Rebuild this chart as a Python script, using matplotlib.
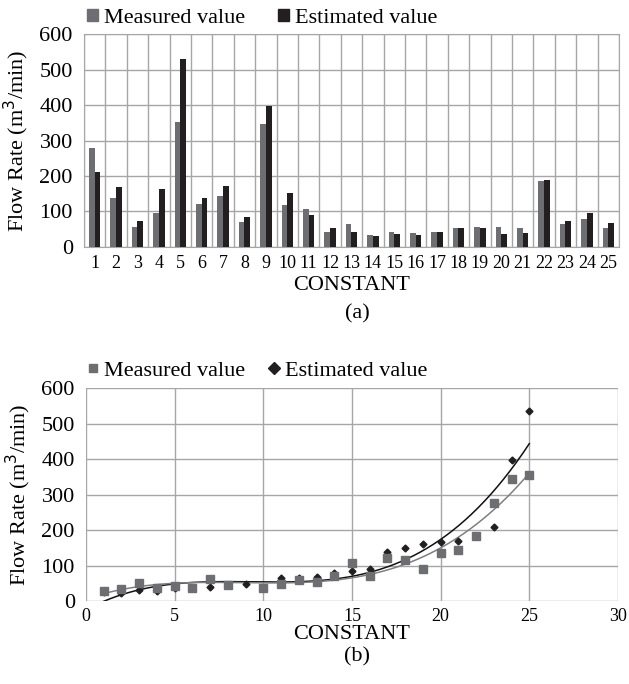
import numpy as np
import matplotlib
matplotlib.use('Agg')
import matplotlib.pyplot as plt
from matplotlib.lines import Line2D
from matplotlib.patches import Patch

plt.rcParams['font.family'] = ['Liberation Serif', 'DejaVu Serif']

# (a) bar chart values
constants = np.arange(1, 26)
bar_measured = [279, 139, 57, 97, 352, 122, 144, 71, 347, 119, 108, 43, 66,
                35, 43, 40, 43, 52, 57, 57, 54, 186, 66, 80, 54]
bar_estimated = [212, 170, 74, 164, 530, 139, 172, 85, 397, 153, 91, 54, 43,
                 32, 37, 35, 43, 52, 52, 37, 40, 189, 74, 97, 68]

# (b) scatter values (nan = point not visible in the figure)
sc_measured = [28, 35, 51, 36, 42, 37, 61, 44, np.nan, 37, 48, 59, 53, 70, 106,
               70, 121, 115, 89, 134, 145, 184, 276, 345, 354]
sc_estimated = [26, 23, 30, 27, 36, 37, 39, 44, 47, 37, 64, 66, 68, 80, 85,
                91, 137, 150, 160, 167, 170, 184, 209, 396, 536]

c_meas = '#6d6e71'
c_est = '#231f20'
c_grid = '#a6a6a6'
fs = 16

fig = plt.figure(figsize=(6.29, 6.84), dpi=100)

# ---- (a)
ax1 = fig.add_axes([0.1335, 0.639, 0.8505, 0.311])
w = 0.265
ax1.bar(constants - w/2, bar_measured, w, color=c_meas, zorder=3)
ax1.bar(constants + w/2, bar_estimated, w, color=c_est, zorder=3)
ax1.set_xlim(0.5, 25.5)
ax1.set_ylim(0, 600)
ax1.set_yticks(range(0, 601, 100))
ax1.set_xticks(constants)
ax1.set_xticks(np.arange(0.5, 26, 1), minor=True)
ax1.grid(True, which='minor', axis='x', color=c_grid, lw=1, zorder=0)
ax1.grid(True, which='major', axis='y', color=c_grid, lw=1, zorder=0)
ax1.tick_params(which='both', length=0)
ax1.tick_params(axis='y', labelsize=fs, pad=8)
ax1.tick_params(axis='x', labelsize=13, pad=6)
for s in ax1.spines.values():
    s.set_color(c_grid)
ax1.set_xlabel('CONSTANT', fontsize=fs, labelpad=3)
ax1.set_ylabel('Flow Rate (m$^3$/min)', fontsize=fs, labelpad=6)
ax1.legend(handles=[Patch(color=c_meas, label='Measured value'),
                    Patch(color=c_est, label='Estimated value')],
           loc='lower left', bbox_to_anchor=(0.006, 1.03), ncol=2, frameon=False,
           fontsize=fs, handlelength=0.5, handleheight=0.5, handletextpad=0.25,
           columnspacing=1.5, borderpad=0, borderaxespad=0)
fig.text(0.568, 0.541, '(a)', ha='center', va='center', fontsize=fs)

# ---- (b)
ax2 = fig.add_axes([0.1367, 0.1213, 0.8458, 0.3114])
x = np.arange(1, 26)
m = np.array(sc_measured, dtype=float)
e = np.array(sc_estimated, dtype=float)
ok = ~np.isnan(m)
xs = np.linspace(1, 25, 200)
pm = np.polyfit(x[ok], m[ok], 3)
pe = np.polyfit(x, e, 3)
ax2.plot(xs, np.polyval(pe, xs), color='#111111', lw=1.1, zorder=3)
ax2.plot(xs, np.polyval(pm, xs), color='#7f7f7f', lw=1.1, zorder=3)
ax2.plot(x, e, 'D', color=c_est, ms=3.5, zorder=4)
ax2.plot(x, m, 's', color=c_meas, ms=5.5, zorder=5)
ax2.set_xlim(0, 30)
ax2.set_ylim(0, 600)
ax2.set_xticks(range(0, 31, 5))
ax2.set_yticks(range(0, 601, 100))
ax2.grid(True, color=c_grid, lw=1, zorder=0)
ax2.tick_params(length=0)
ax2.tick_params(axis='y', labelsize=fs, pad=8)
ax2.tick_params(axis='x', labelsize=13, pad=5)
for s in ax2.spines.values():
    s.set_visible(False)
ax2.set_xlabel('CONSTANT', fontsize=fs, labelpad=0)
ax2.set_ylabel('Flow Rate (m$^3$/min)', fontsize=fs, labelpad=6)
ax2.legend(handles=[Line2D([], [], ls='none', marker='s', color=c_meas, ms=6,
                           label='Measured value'),
                    Line2D([], [], ls='none', marker='D', color=c_est, ms=6,
                           label='Estimated value')],
           loc='lower left', bbox_to_anchor=(0.0, 1.035), ncol=2, frameon=False,
           fontsize=fs, handlelength=0.6, handletextpad=0.2,
           columnspacing=1.0, borderpad=0, borderaxespad=0)
fig.text(0.568, 0.040, '(b)', ha='center', va='center', fontsize=fs)

fig.savefig('out.png', dpi=100)
